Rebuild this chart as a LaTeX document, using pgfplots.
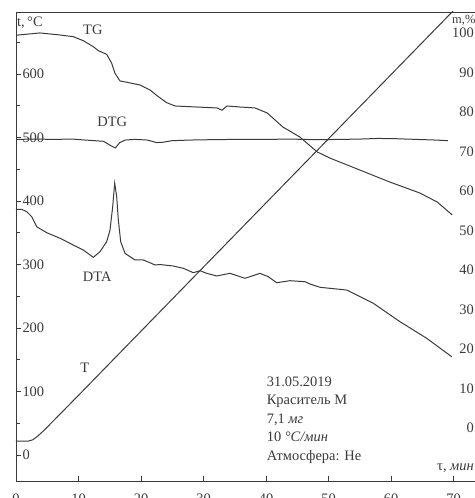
\documentclass[border=0pt]{standalone}
\usepackage{fontspec}
\setmainfont{Liberation Serif}
\usepackage{pgfplots}
\pgfplotsset{compat=1.18}

\definecolor{ink}{HTML}{3A3A3A}
\tikzset{curve/.style={ink, line width=1bp, mark=none}}

\begin{document}
\begin{tikzpicture}
\begin{axis}[
  name=main,
  scale only axis, width=479bp, height=469bp,
  xmin=0, xmax=76.64, ymin=-40.9, ymax=697.6,
  xtick={0,10,...,70}, ytick={0,100,...,600},
  minor ytick={50,150,...,650},
  xtick pos=bottom, ytick pos=left,
  tick align=inside, major tick length=5bp, minor tick length=4bp,
  axis line style={ink, line width=0.9bp},
  every tick/.style={ink, line width=0.8bp},
  ticklabel style={font=\fontsize{14.5}{16}\selectfont, text=ink},
  yticklabel style={anchor=west, xshift=3bp},
  xticklabel style={yshift=-9bp},
  /pgf/number format/assume math mode=true,
]
\coordinate (sw) at (rel axis cs:0,0);
\coordinate (ne) at (rel axis cs:1,1);

% T
\addplot[curve] coordinates {
  (0,22) (2,22) (2.7,24) (3.5,30) (4.5,39) (5.5,49) (10,94) (70.5,705)
};

% TG
\addplot[curve] coordinates {
  (0,661) (3.84,664.6) (7.04,661.4) (9.17,658.7) (10.77,652.4) (12.37,643)
  (13.17,636.7) (14.51,631) (15.31,616.9) (15.84,601.1) (16.64,589)
  (17.71,587) (19.84,582.7) (21.44,574.8) (22.77,564.3) (24.11,554.8)
  (25.44,549.6) (27.84,548.5) (32.16,546.5) (32.96,543) (33.76,549.6)
  (35.84,548) (38.24,546.5) (40.2,538.6) (42.7,516.5) (45.4,500.8)
  (48.2,477.2) (50.2,467.7) (55.0,448.8) (59.8,429.9) (64.6,412.6)
  (67.4,398.4) (69.8,378.0)
};

% DTG
\addplot[curve] coordinates {
  (0,497) (3,497.5) (6,497) (9,497.5) (11,496) (12.5,495) (14.0,494)
  (15.2,487) (15.9,483.5) (16.6,492) (17.5,496) (19,497) (21,496)
  (22.5,492) (23.5,492.5) (25,495) (28,496) (31,496.5) (35,497) (40,497)
  (44,497.5) (48,496.5) (52,497) (55,497.5) (58,498.5) (61,498) (64,497)
  (67,496) (69.1,495)
};

% DTA
\addplot[curve] coordinates {
  (0,386.9) (0.91,386.9) (1.71,383.1) (2.51,375.3) (3.31,359.5) (4.91,350.1)
  (7.04,341.3) (9.17,330.7) (10.77,322.8) (12.37,311.3) (13.44,320.2)
  (14.51,335.9) (15.04,354.3) (15.47,391.0) (15.79,427.9) (16.11,406.8)
  (16.37,370.1) (16.75,335.9) (17.44,317.6) (19.04,307.1) (20.37,307.1)
  (21.44,302.8) (22.24,299.2) (23.04,300) (25.17,297.6) (26.77,294.0)
  (28.37,287.1) (29.44,290.2) (30.51,286.1) (32.11,281.9) (34.24,286.1)
  (36.64,278.3) (39.04,286.1) (40.37,280.8) (41.71,271.3) (43.84,274.5)
  (46.24,272.9) (47.04,269.3) (48.64,264.1) (52.91,259.8) (57.17,238.9)
  (61.44,209.9) (65.71,183.8) (69.71,154.8)
};

\begin{scope}[font=\fontsize{14.5}{16}\selectfont, text=ink]
\node at (axis cs:12.3,669) {TG};
\node at (axis cs:15.4,524) {DTG};
\node at (axis cs:13.0,280) {DTA};
\node at (axis cs:11.0,137) {T};
\node[anchor=west, inner sep=0, xshift=1bp] at (axis cs:0,680) {t,\,°C};
\node[anchor=west, inner sep=0] at (axis cs:67.36,-20.5) {τ, \textit{мин}};
\node[anchor=west, inner sep=0, font=\fontsize{12.5}{14}\selectfont] at (axis cs:69.76,685) {m,\%};
\node[anchor=west, align=left, inner sep=0, font=\fontsize{14.5}{18.5}\selectfont]
  at (axis cs:40.1,55)
  {31.05.2019\\Краситель М\\7,1 \textit{мг}\\10 \textit{°С/мин}\\Атмосфера: Не};
\end{scope}
\end{axis}

\begin{axis}[
  scale only axis, width=479bp, height=469bp,
  xmin=0, xmax=76.64, ymin=-13.42, ymax=105.32,
  axis x line=none, axis y line*=right,
  y axis line style={draw=none},
  ytick={0,10,...,100}, major tick length=0pt,
  ticklabel style={font=\fontsize{14.5}{16}\selectfont, text=ink},
  yticklabel style={anchor=east, inner sep=0pt, xshift=-21bp},
  /pgf/number format/assume math mode=true,
]
\end{axis}

\pgfresetboundingbox
\path[use as bounding box] ([shift={(-16bp,-17bp)}]sw) rectangle ([shift={(-20bp,12bp)}]ne);
\end{tikzpicture}
\end{document}
